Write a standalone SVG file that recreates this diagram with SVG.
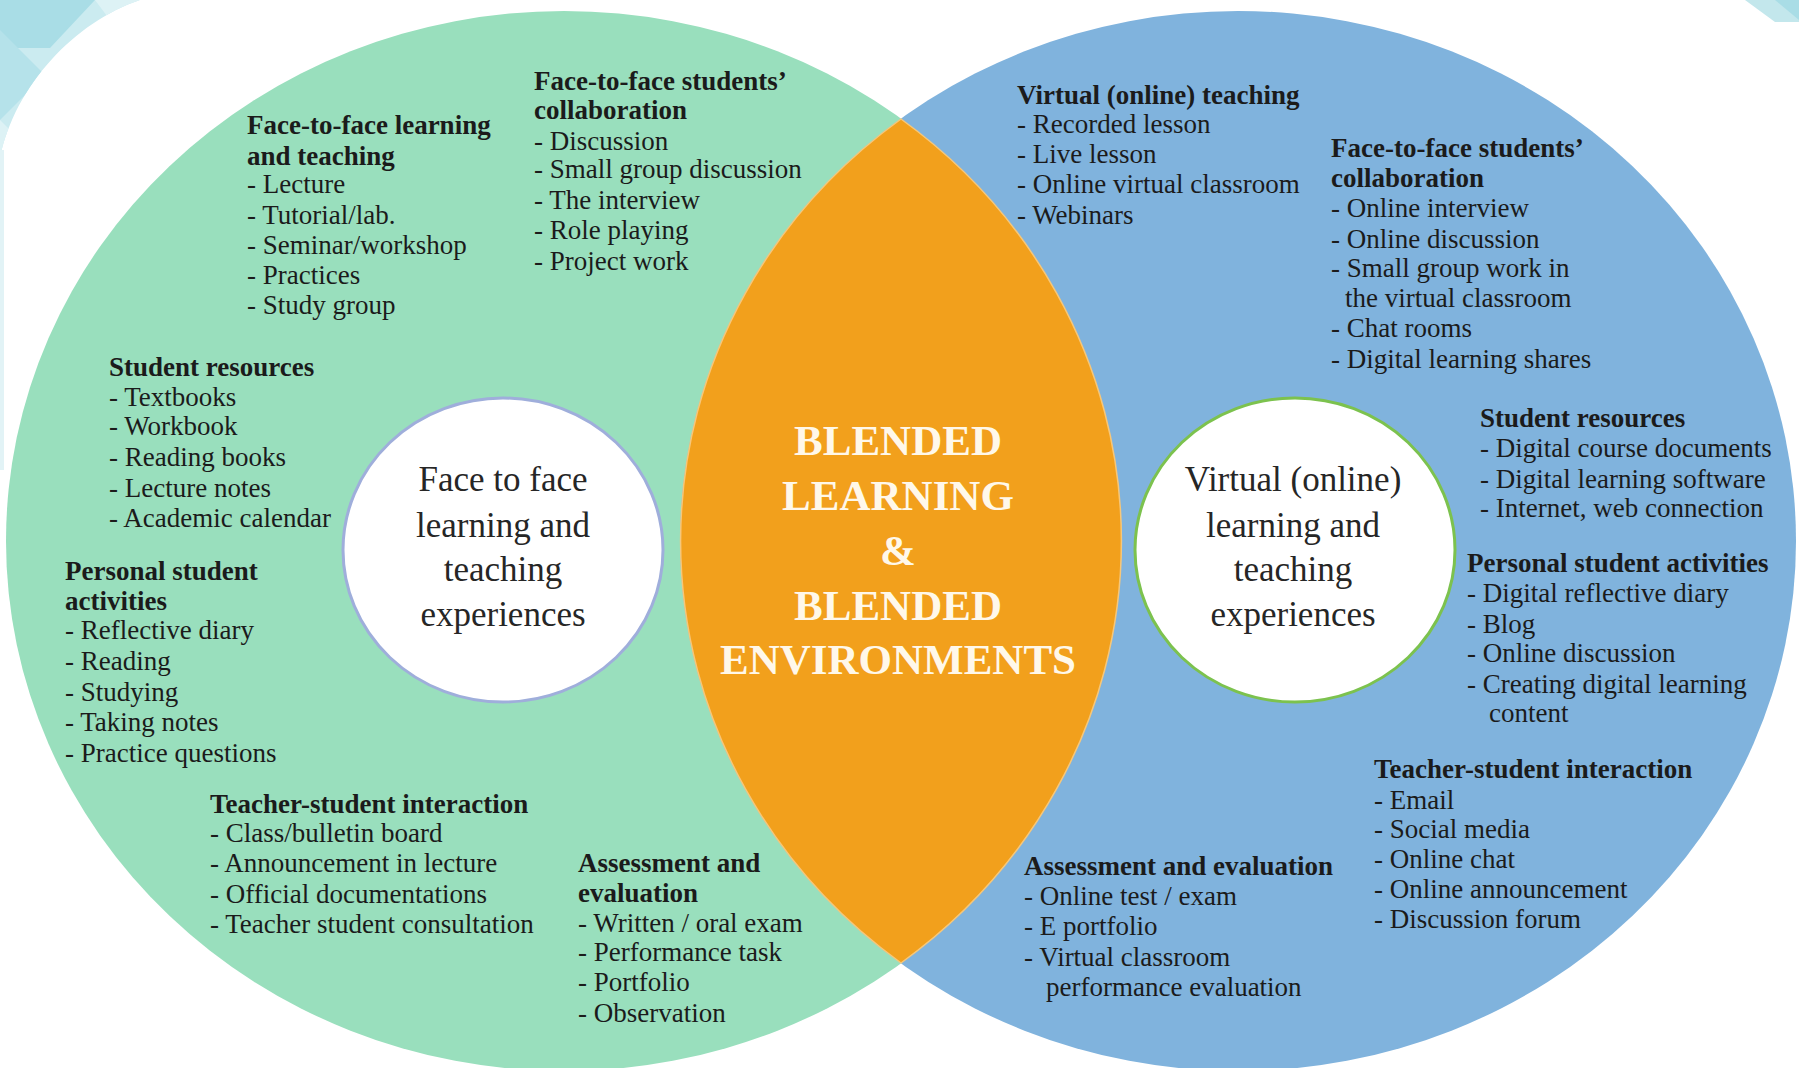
<svg xmlns="http://www.w3.org/2000/svg" width="1799" height="1068" viewBox="0 0 1799 1068">
<defs>
<style>
.t{font-family:"Liberation Serif","Times New Roman",serif;font-size:27px;fill:#1b1b1b}
.h{font-weight:bold}
.c{font-family:"Liberation Serif","Times New Roman",serif;font-size:35px;fill:#262626;text-anchor:middle}
.m{font-family:"Liberation Serif","Times New Roman",serif;font-size:43px;font-weight:bold;fill:#FFF8EA;text-anchor:middle}
</style>
<clipPath id="corner"><path d="M0,0 H140 C75,22 15,85 0,158 Z"/></clipPath>
</defs>
<rect width="1799" height="1068" fill="#ffffff"/>
<g id="decoration">
<g clip-path="url(#corner)">
<rect x="0" y="0" width="140" height="160" fill="#CBEBF0"/>
<polygon points="0,0 95,0 50,48 0,48" fill="#A9DDE6"/>
<polygon points="0,30 45,75 0,120" fill="#B5E2EA"/>
<polygon points="95,0 140,0 110,20" fill="#DDF2F5"/>
<polygon points="0,120 30,150 0,160" fill="#DDF2F5"/>
</g>
<rect x="0" y="150" width="4" height="320" fill="#E2F3F6"/>
<polygon points="1745,0 1799,0 1799,22 1775,22" fill="#C3E7EC"/>
<polygon points="1775,0 1799,0 1799,20" fill="#A9DDE6"/>
</g>
<g id="face-to-face-circle">
<ellipse cx="564" cy="541" rx="558" ry="530" fill="#99DFBD"/>
</g>
<g id="virtual-circle">
<ellipse cx="1238" cy="541" rx="558" ry="530" fill="#80B3DD"/>
</g>
<g id="blended-lens">
<path d="M901,119 A558,530 0 0 1 901,963 A558,530 0 0 1 901,119 Z" fill="#F2A01C" stroke="#F6C77A" stroke-width="1.5"/>
<text class="m" x="898" y="455">BLENDED</text>
<text class="m" x="898" y="510">LEARNING</text>
<text class="m" x="898" y="565">&amp;</text>
<text class="m" x="898" y="620">BLENDED</text>
<text class="m" x="898" y="674">ENVIRONMENTS</text>
</g>
<g id="face-to-face-core">
<ellipse cx="503" cy="550" rx="160" ry="152" fill="#ffffff" stroke="#9FAEDB" stroke-width="3"/>
<text class="c" x="503" y="491">Face to face</text>
<text class="c" x="503" y="537">learning and</text>
<text class="c" x="503" y="581">teaching</text>
<text class="c" x="503" y="626">experiences</text>
</g>
<g id="virtual-core">
<ellipse cx="1295" cy="550" rx="160" ry="152" fill="#ffffff" stroke="#7CC24E" stroke-width="3"/>
<text class="c" x="1293" y="491">Virtual (online)</text>
<text class="c" x="1293" y="537">learning and</text>
<text class="c" x="1293" y="581">teaching</text>
<text class="c" x="1293" y="626">experiences</text>
</g>
<g id="f2f-learning-teaching">
<text class="t"><tspan class="h" x="247" y="134">Face-to-face learning</tspan><tspan class="h" x="247" y="165">and teaching</tspan><tspan x="247" y="193">- Lecture</tspan><tspan x="247" y="224">- Tutorial/lab.</tspan><tspan x="247" y="254">- Seminar/workshop</tspan><tspan x="247" y="284">- Practices</tspan><tspan x="247" y="314">- Study group</tspan></text>
</g>
<g id="f2f-collaboration">
<text class="t"><tspan class="h" x="534" y="90">Face-to-face students’</tspan><tspan class="h" x="534" y="119">collaboration</tspan><tspan x="534" y="150">- Discussion</tspan><tspan x="534" y="178">- Small group discussion</tspan><tspan x="534" y="209">- The interview</tspan><tspan x="534" y="239">- Role playing</tspan><tspan x="534" y="270">- Project work</tspan></text>
</g>
<g id="f2f-student-resources">
<text class="t"><tspan class="h" x="109" y="376">Student resources</tspan><tspan x="109" y="406">- Textbooks</tspan><tspan x="109" y="435">- Workbook</tspan><tspan x="109" y="466">- Reading books</tspan><tspan x="109" y="497">- Lecture notes</tspan><tspan x="109" y="527">- Academic calendar</tspan></text>
</g>
<g id="f2f-personal-activities">
<text class="t"><tspan class="h" x="65" y="580">Personal student</tspan><tspan class="h" x="65" y="610">activities</tspan><tspan x="65" y="639">- Reflective diary</tspan><tspan x="65" y="670">- Reading</tspan><tspan x="65" y="701">- Studying</tspan><tspan x="65" y="731">- Taking notes</tspan><tspan x="65" y="762">- Practice questions</tspan></text>
</g>
<g id="f2f-teacher-student">
<text class="t"><tspan class="h" x="210" y="813">Teacher-student interaction</tspan><tspan x="210" y="842">- Class/bulletin board</tspan><tspan x="210" y="872">- Announcement in lecture</tspan><tspan x="210" y="903">- Official documentations</tspan><tspan x="210" y="933">- Teacher student consultation</tspan></text>
</g>
<g id="f2f-assessment">
<text class="t"><tspan class="h" x="578" y="872">Assessment and</tspan><tspan class="h" x="578" y="902">evaluation</tspan><tspan x="578" y="932">- Written / oral exam</tspan><tspan x="578" y="961">- Performance task</tspan><tspan x="578" y="991">- Portfolio</tspan><tspan x="578" y="1022">- Observation</tspan></text>
</g>
<g id="virtual-teaching">
<text class="t"><tspan class="h" x="1017" y="104">Virtual (online) teaching</tspan><tspan x="1017" y="133">- Recorded lesson</tspan><tspan x="1017" y="163">- Live lesson</tspan><tspan x="1017" y="193">- Online virtual classroom</tspan><tspan x="1017" y="224">- Webinars</tspan></text>
</g>
<g id="virtual-collaboration">
<text class="t"><tspan class="h" x="1331" y="157">Face-to-face students’</tspan><tspan class="h" x="1331" y="187">collaboration</tspan><tspan x="1331" y="217">- Online interview</tspan><tspan x="1331" y="248">- Online discussion</tspan><tspan x="1331" y="277">- Small group work in</tspan><tspan x="1345" y="307">the virtual classroom</tspan><tspan x="1331" y="337">- Chat rooms</tspan><tspan x="1331" y="368">- Digital learning shares</tspan></text>
</g>
<g id="virtual-student-resources">
<text class="t"><tspan class="h" x="1480" y="427">Student resources</tspan><tspan x="1480" y="457">- Digital course documents</tspan><tspan x="1480" y="488">- Digital learning software</tspan><tspan x="1480" y="517">- Internet, web connection</tspan></text>
</g>
<g id="virtual-personal-activities">
<text class="t"><tspan class="h" x="1467" y="572">Personal student activities</tspan><tspan x="1467" y="602">- Digital reflective diary</tspan><tspan x="1467" y="633">- Blog</tspan><tspan x="1467" y="662">- Online discussion</tspan><tspan x="1467" y="693">- Creating digital learning</tspan><tspan x="1489" y="722">content</tspan></text>
</g>
<g id="virtual-teacher-student">
<text class="t"><tspan class="h" x="1374" y="778">Teacher-student interaction</tspan><tspan x="1374" y="809">- Email</tspan><tspan x="1374" y="838">- Social media</tspan><tspan x="1374" y="868">- Online chat</tspan><tspan x="1374" y="898">- Online announcement</tspan><tspan x="1374" y="928">- Discussion forum</tspan></text>
</g>
<g id="virtual-assessment">
<text class="t"><tspan class="h" x="1024" y="875">Assessment and evaluation</tspan><tspan x="1024" y="905">- Online test / exam</tspan><tspan x="1024" y="935">- E portfolio</tspan><tspan x="1024" y="966">- Virtual classroom</tspan><tspan x="1046" y="996">performance evaluation</tspan></text>
</g>
</svg>
